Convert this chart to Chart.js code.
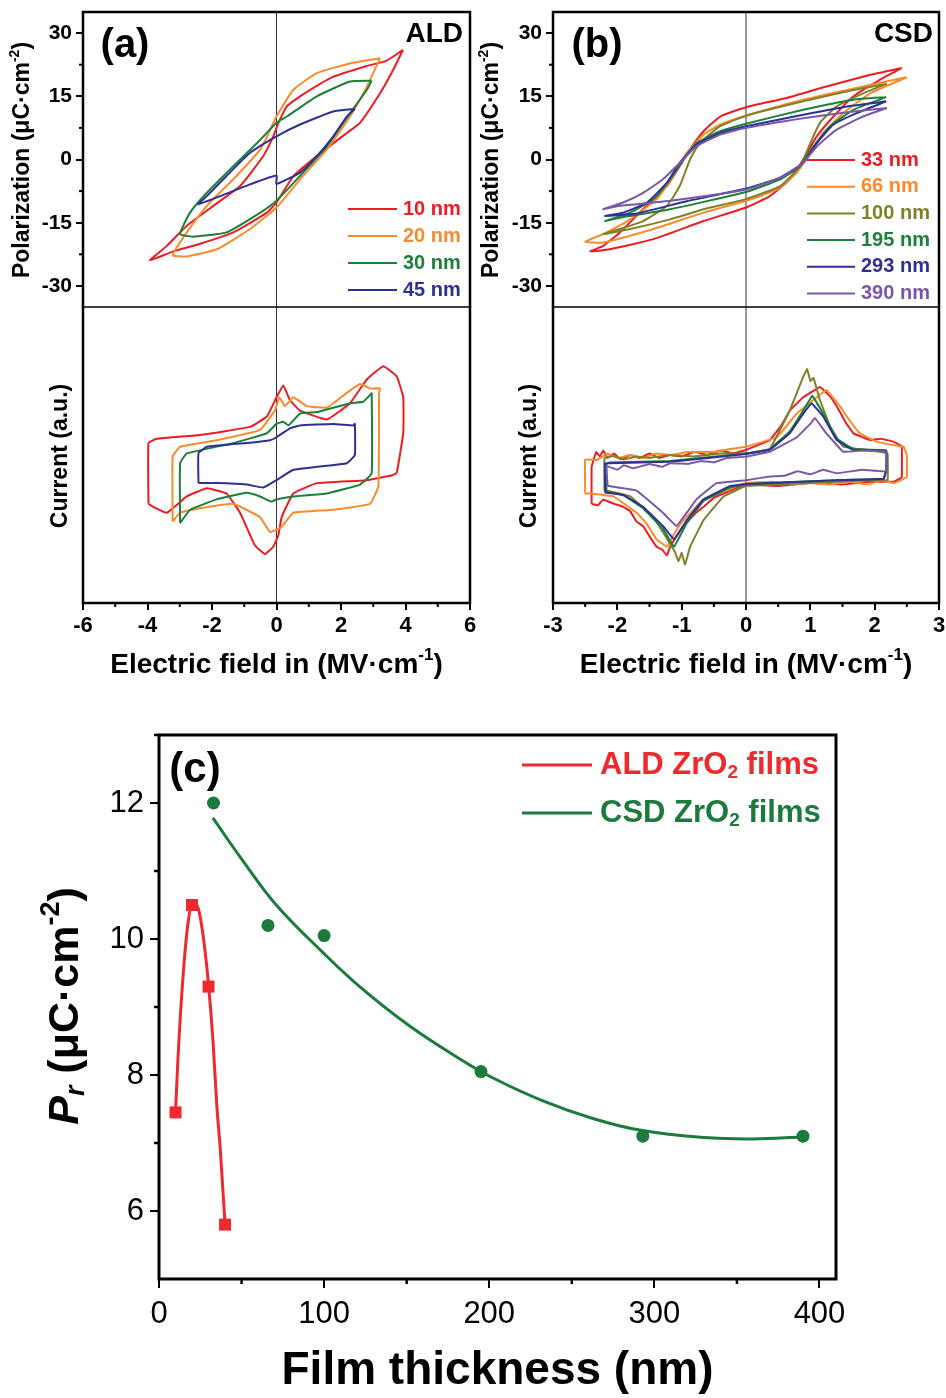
<!DOCTYPE html>
<html>
<head>
<meta charset="utf-8">
<script src="https://cdn.jsdelivr.net/npm/chart.js@4.4.1/dist/chart.umd.min.js"></script>
<style>
html,body{margin:0;padding:0;background:#fff;}
#wrap{position:relative;width:946px;height:1398px;overflow:hidden;background:#fff;}
canvas{position:absolute;}
</style>
</head>
<body>
<div id="wrap">
<canvas id="aTop" width="480" height="307" style="left:0;top:0"></canvas>
<canvas id="aBot" width="490" height="394" style="left:0;top:306px"></canvas>
<canvas id="bTop" width="476" height="307" style="left:470px;top:0"></canvas>
<canvas id="bBot" width="476" height="394" style="left:470px;top:306px"></canvas>
<canvas id="cPlot" width="946" height="698" style="left:0;top:700px"></canvas>
</div>
<script>
const FONT="'Liberation Sans', Arial, sans-serif";
const RED='#ec1c24', ORANGE='#f98b2c', GREEN='#1c7f3a', BLUE='#2e3192', OLIVE='#80802a', PURPLE='#7a58a8';

// ---- (a) ALD, P-E loops [E (MV/cm), P (uC/cm2)]
const aPE10=[[3.92,26],[3.4,23.4],[2.8,22.2],[1.75,19.6],[0.73,15],[0.32,12.6],[0.05,8.5],[-0.1,5.5],[-0.42,0.7],[-1.13,-6.3],[-1.96,-11],[-2.78,-15.7],[-3.4,-20.5],[-3.92,-23.9],[-3.2,-21.8],[-2.37,-20],[-1.34,-17.3],[-0.3,-12.6],[0,-10.2],[0.52,-4],[1.25,0.8],[2.18,6.3],[2.59,8.7],[3.21,15.7],[3.62,21.3],[3.92,26]];
const aPE20=[[3.21,24],[2.28,22.8],[1.25,20.5],[0.52,16.5],[0,10.2],[-0.5,2.4],[-1.34,-4.7],[-2.16,-11],[-2.78,-17.3],[-3.22,-22.7],[-2.78,-23],[-1.85,-21.3],[-0.82,-16.5],[0,-11.4],[0.73,-4.7],[1.56,2.4],[2.28,10.2],[2.8,17.3],[3.21,24]];
const aPE30=[[2.95,18.7],[2.28,18.5],[1.25,15],[0.32,10.2],[0,8.7],[-0.5,4.7],[-1.34,-1.6],[-2.16,-7.9],[-2.68,-12.6],[-2.99,-17.7],[-2.58,-18.3],[-1.55,-17.3],[-0.5,-12.6],[0,-9.8],[0.73,-3.9],[1.56,3.1],[2.28,11],[2.8,16.5],[2.95,18.7]];
const aPE45=[[2.43,12],[1.76,11.4],[0.73,8.3],[0,5.5],[-0.82,1.6],[-1.55,-3.9],[-2.16,-8.7],[-2.42,-10.6],[-1.85,-9],[-0.82,-5.9],[0,-3.8],[0,-5.8],[0.73,-3.1],[1.25,0.8],[1.76,5.5],[2.18,10.2],[2.43,12]];
// ---- (a) ALD, current loops [E, I (a.u.)]
const aIE10=[[-3.97,-0.33],[-3.97,0.08],[-3.71,0.11],[-2.37,0.135],[-0.82,0.19],[-0.3,0.26],[0,0.39],[0.21,0.47],[0.42,0.37],[0.73,0.3],[1.56,0.24],[2.28,0.35],[2.8,0.51],[3.31,0.6],[3.73,0.53],[3.93,0.39],[3.93,0.15],[3.73,-0.12],[3.62,-0.135],[2.8,-0.17],[1.25,-0.19],[0.52,-0.26],[0.16,-0.42],[0.06,-0.54],[-0.1,-0.62],[-0.36,-0.67],[-0.67,-0.61],[-1.13,-0.39],[-1.55,-0.26],[-2.16,-0.225],[-2.78,-0.28],[-3.4,-0.39],[-3.82,-0.35],[-3.97,-0.33]];
const aIE20=[[-3.22,-0.45],[-3.22,-0.01],[-2.99,0.056],[-1.85,0.1],[-0.51,0.17],[-0.05,0.3],[0.09,0.39],[0.26,0.33],[0.52,0.39],[0.94,0.33],[1.56,0.32],[2.18,0.42],[2.59,0.48],[2.9,0.45],[3.21,0.45],[3.18,0.42],[3.16,-0.21],[2.9,-0.33],[1.76,-0.37],[0.52,-0.39],[0.14,-0.49],[-0.2,-0.52],[-0.51,-0.42],[-1.34,-0.33],[-2.37,-0.36],[-2.99,-0.39],[-3.22,-0.45]];
const aIE30=[[-2.99,-0.46],[-2.99,-0.056],[-2.78,0.011],[-1.34,0.08],[-0.3,0.147],[0,0.21],[0.21,0.225],[0.37,0.2],[0.73,0.28],[1.25,0.29],[2.28,0.35],[2.69,0.36],[2.9,0.405],[2.95,0.417],[2.95,-0.124],[2.59,-0.2],[1.56,-0.26],[0.52,-0.28],[0,-0.3],[-0.15,-0.315],[-0.51,-0.28],[-0.92,-0.255],[-1.85,-0.3],[-2.68,-0.37],[-2.99,-0.46]];
const aIE45=[[-2.42,-0.19],[-2.42,0.011],[-2.16,0.056],[-0.82,0.083],[-0.2,0.1],[0,0.12],[0.42,0.18],[0.73,0.2],[1.76,0.21],[2.38,0.2],[2.43,0.21],[2.43,0],[2.18,-0.056],[1.25,-0.08],[0.52,-0.1],[0,-0.17],[-0.41,-0.22],[-0.92,-0.2],[-1.85,-0.19],[-2.42,-0.19]];
const aLabels=['10 nm','20 nm','30 nm','45 nm'];

// ---- (b) CSD, P-E loops
const bPE33=[[2.42,21.7],[1.93,20.1],[1.15,16.9],[0.63,14.6],[0,12.4],[-0.4,10.2],[-0.66,6.7],[-0.84,3.1],[-1.03,-1.6],[-1.23,-6.3],[-1.6,-11.8],[-1.96,-17.3],[-2.22,-20.5],[-2.42,-21.8],[-2.12,-21.3],[-1.44,-18.9],[-0.66,-14.6],[0,-11.4],[0.37,-8.7],[0.68,-4.7],[0.89,0],[1.1,5.5],[1.36,10.2],[1.67,15],[2.08,18.9],[2.42,21.7]];
const bPE66=[[2.5,19.5],[1.93,17.7],[0.89,14.2],[0,10.4],[-0.4,8.3],[-0.66,5.9],[-0.92,1.6],[-1.13,-3.9],[-1.39,-9.4],[-1.8,-14.2],[-2.22,-17.7],[-2.5,-19.5],[-2.22,-19.7],[-1.44,-16.5],[-0.66,-12.6],[0,-9.8],[0.48,-7.1],[0.79,-3.1],[1,1.6],[1.2,6.3],[1.51,11],[1.93,15.7],[2.5,19.5]];
const bPE100=[[2.19,18],[1.67,16.5],[0.89,13.8],[0,10.4],[-0.4,7.9],[-0.72,3.9],[-0.87,0],[-1.03,-6.3],[-1.23,-11],[-1.6,-14.6],[-1.96,-16.5],[-2.22,-17.7],[-1.8,-16.5],[-1.18,-14.2],[-0.66,-11.8],[0,-9.4],[0.53,-6.3],[0.84,-1.6],[1,3.9],[1.15,8.7],[1.41,12.6],[1.82,15.7],[2.19,18]];
const bPE195=[[2.18,14.8],[1.67,14.2],[0.89,11.8],[0,8.5],[-0.4,6.7],[-0.77,3.9],[-0.97,0],[-1.18,-4.7],[-1.44,-9.4],[-1.8,-12.6],[-2.19,-14.6],[-1.96,-13.8],[-1.18,-11.8],[0,-7.7],[0.53,-4.7],[0.84,-1.6],[1.05,3.1],[1.31,7.9],[1.67,11.8],[2.18,14.8]];
const bPE293=[[2.18,13.8],[1.67,12.8],[0.89,10.6],[0,7.9],[-0.4,6.3],[-0.77,3.5],[-1.03,-0.8],[-1.23,-5.5],[-1.54,-10.2],[-1.91,-12.6],[-2.19,-13.4],[-1.7,-12.8],[-0.92,-9.9],[0,-6.9],[0.53,-4.3],[0.89,-0.8],[1.1,3.9],[1.36,8.3],[1.72,11],[2.18,13.8]];
const bPE390=[[2.19,12.2],[1.67,11.4],[0.89,9.8],[0,7.5],[-0.4,5.9],[-0.77,3.1],[-1.03,-0.8],[-1.29,-4.7],[-1.6,-7.9],[-1.91,-10.2],[-2.22,-11.8],[-1.96,-11],[-1.18,-9.8],[0,-7.1],[0.53,-4.3],[0.89,-0.8],[1.1,3.1],[1.41,7.1],[1.82,10.2],[2.19,12.2]];
// ---- (b) CSD, current loops (noisy traces read point by point)
const bIE33=[[-2.4,-0.33],[-2.4,-0.08],[-2.33,0.02],[-2.27,-0.01],[-2.22,0.03],[-2.15,-0.02],[-2.05,0.01],[-1.95,-0.03],[-1.8,0],[-1.65,-0.02],[-1.5,0.01],[-1.35,-0.02],[-1.18,0],[-1,-0.01],[-0.8,0.02],[-0.6,0],[-0.4,0.03],[-0.2,0.01],[0,0.034],[0.37,0.1],[0.55,0.2],[0.68,0.3],[0.89,0.39],[1.15,0.46],[1.3,0.4],[1.41,0.33],[1.55,0.22],[1.67,0.146],[1.93,0.1],[2.1,0.11],[2.29,0.09],[2.42,0.06],[2.42,-0.15],[2.3,-0.18],[1.93,-0.18],[1.5,-0.2],[1,-0.19],[0.5,-0.21],[0,-0.2],[-0.35,-0.26],[-0.5,-0.29],[-0.66,-0.35],[-0.8,-0.4],[-0.97,-0.48],[-1.08,-0.55],[-1.18,-0.62],[-1.23,-0.68],[-1.3,-0.64],[-1.39,-0.62],[-1.5,-0.55],[-1.6,-0.48],[-1.7,-0.45],[-1.8,-0.38],[-1.91,-0.35],[-2.05,-0.33],[-2.22,-0.3],[-2.3,-0.34],[-2.4,-0.33]];
const bIE66=[[-2.5,-0.26],[-2.5,-0.03],[-2.32,-0.034],[-2.15,0.01],[-2,-0.02],[-1.8,0],[-1.6,-0.02],[-1.4,0.01],[-1.18,0],[-0.9,0.02],[-0.5,0.02],[-0.25,0.04],[0,0.056],[0.48,0.12],[0.79,0.28],[1.1,0.39],[1.25,0.44],[1.46,0.33],[1.6,0.24],[1.77,0.146],[2.03,0.09],[2.25,0.07],[2.45,0.056],[2.5,0],[2.5,-0.15],[2.3,-0.19],[2.1,-0.17],[1.9,-0.2],[1.6,-0.18],[1.3,-0.2],[1,-0.185],[0.7,-0.2],[0.4,-0.18],[0,-0.19],[-0.66,-0.3],[-0.97,-0.44],[-1.1,-0.52],[-1.23,-0.62],[-1.39,-0.57],[-1.55,-0.46],[-1.7,-0.39],[-2.06,-0.28],[-2.43,-0.26],[-2.5,-0.26]];
const bIE100=[[-2.2,-0.24],[-2.2,-0.02],[-2.06,-0.007],[-1.9,-0.03],[-1.7,-0.01],[-1.5,-0.02],[-1.2,0],[-0.8,-0.01],[-0.4,0.01],[0,0.01],[0.37,0.04],[0.68,0.3],[0.89,0.53],[0.95,0.58],[1,0.5],[1.05,0.52],[1.15,0.37],[1.31,0.19],[1.51,0.056],[2.08,0.022],[2.2,0.01],[2.2,-0.17],[1.93,-0.17],[0,-0.21],[-0.35,-0.28],[-0.66,-0.44],[-0.87,-0.62],[-0.92,-0.7],[-0.95,-0.74],[-1,-0.66],[-1.05,-0.72],[-1.1,-0.66],[-1.18,-0.6],[-1.44,-0.42],[-1.8,-0.28],[-2.17,-0.24],[-2.2,-0.24]];
const bIE195=[[-2.17,-0.25],[-2.17,-0.06],[-2.12,-0.05],[-1.18,-0.04],[0,0.01],[0.37,0.04],[0.68,0.16],[0.89,0.3],[1.03,0.4],[1.2,0.28],[1.41,0.11],[1.67,0.04],[2.18,0.03],[2.18,-0.1],[2.14,-0.16],[1.41,-0.17],[0,-0.2],[-0.25,-0.22],[-0.66,-0.31],[-0.92,-0.46],[-1.12,-0.62],[-1.29,-0.5],[-1.6,-0.36],[-1.91,-0.27],[-2.17,-0.25]];
const bIE293=[[-2.19,-0.255],[-2.19,-0.056],[-2.12,-0.056],[-1.18,-0.045],[0,0.007],[0.37,0.034],[0.68,0.146],[0.89,0.28],[1.02,0.35],[1.2,0.26],[1.41,0.1],[1.67,0.034],[2.18,0.03],[2.18,-0.1],[2.14,-0.16],[1.41,-0.17],[0,-0.196],[-0.25,-0.21],[-0.66,-0.3],[-0.92,-0.44],[-1.12,-0.57],[-1.29,-0.48],[-1.6,-0.35],[-1.91,-0.27],[-2.17,-0.255],[-2.19,-0.255]];
const bIE390=[[-2.15,-0.21],[-2.17,-0.074],[-2,-0.1],[-1.9,-0.07],[-1.75,-0.09],[-1.5,-0.06],[-1.3,-0.08],[-1.18,-0.056],[-0.9,-0.06],[-0.7,-0.04],[-0.5,-0.05],[-0.3,-0.02],[0,-0.011],[0.37,0.022],[0.79,0.12],[1,0.21],[1.07,0.25],[1.25,0.146],[1.51,0.022],[1.8,0.03],[2.18,0.022],[2.18,-0.11],[1.8,-0.1],[1.41,-0.124],[1.2,-0.1],[1,-0.13],[0.8,-0.11],[0.6,-0.14],[0.37,-0.146],[0,-0.17],[-0.46,-0.19],[-0.77,-0.3],[-1.08,-0.48],[-1.29,-0.39],[-1.7,-0.24],[-2.12,-0.21],[-2.15,-0.21]];
const bLabels=['33 nm','66 nm','100 nm','195 nm','293 nm','390 nm'];

// ---- (c) remanent polarization vs thickness
const aldThick=[10,20,30,40];
const aldPr=[7.45,10.5,9.3,5.8];
const csdThick=[33,66,100,195,293,390];
const csdPr=[12.0,10.2,10.05,8.05,7.1,7.1];
// fitted curves as drawn in the figure
const aldFitThick=[10,11.5,14.5,17.5,20.5,23.6,26.6,29.6,32.7,35.1,37.1,40];
const aldFitPr=[7.45,8.25,9.43,10.22,10.53,10.46,10.07,9.43,8.5,7.52,6.91,5.8];
const csdFitThick=[32.6,50.8,71,99.3,121.5,151.8,182,202,232.5,262.8,291,330,360,390];
const csdFitPr=[11.78,11.15,10.5,9.8,9.3,8.72,8.24,7.96,7.62,7.36,7.19,7.08,7.06,7.09];

// ---- ticks
const aFieldTicks=[-6,-4,-2,0,2,4,6], aFieldMinor=[-5,-3,-1,1,3,5];
const bFieldTicks=[-3,-2,-1,0,1,2,3], bFieldMinor=[-2.5,-1.5,-0.5,0.5,1.5,2.5];
const polTicks=[-30,-15,0,15,30], polMinor=[-22.5,-7.5,7.5,22.5];
const thickTicks=[0,100,200,300,400], thickMinor=[50,150,250,350];
const prTicks=[6,8,10,12], prMinor=[7,9,11,13];

// draws text with {p:sup} {b:sub} {i:italic} {ib:italic sub} markup
function drawRich(ctx,str,x,y,o){
  const size=o.size, weight=o.weight||'bold';
  const parts=[]; const re=/\{(\w+):([^}]*)\}/g; let last=0,m;
  while((m=re.exec(str))){
    if(m.index>last) parts.push({t:str.slice(last,m.index),k:''});
    parts.push({t:m[2],k:m[1]}); last=re.lastIndex;
  }
  if(last<str.length) parts.push({t:str.slice(last),k:''});
  parts.forEach(p=>{
    const small=p.k.includes('b')||p.k.includes('p');
    p.font=(p.k.includes('i')?'italic ':'')+weight+' '+(small?Math.round(size*0.62):size)+'px '+FONT;
    p.dy=p.k.includes('p')?-size*0.33:(p.k.includes('b')?size*0.24:0);
    ctx.font=p.font; p.w=ctx.measureText(p.t).width;
  });
  const total=parts.reduce((s,p)=>s+p.w,0);
  ctx.save(); ctx.translate(x,y); if(o.rot) ctx.rotate(o.rot);
  let cx=o.align==='left'?0:(o.align==='right'?-total:-total/2);
  ctx.fillStyle=o.color||'#000'; ctx.textBaseline='middle'; ctx.textAlign='left';
  parts.forEach(p=>{ctx.font=p.font; ctx.fillText(p.t,cx,p.dy); cx+=p.w;});
  ctx.restore();
}

const framePlugin={
  id:'frame',
  beforeDatasetsDraw(chart,args,o){
    if(!o.zero) return;
    const {ctx,chartArea:a,scales}=chart, x=scales.x.getPixelForValue(0);
    ctx.save(); ctx.strokeStyle='#333'; ctx.lineWidth=1;
    ctx.beginPath(); ctx.moveTo(x,a.top); ctx.lineTo(x,a.bottom); ctx.stroke(); ctx.restore();
  },
  afterDraw(chart,args,o){
    if(!o.lw) return;
    const {ctx,chartArea:a,scales}=chart;
    ctx.save(); ctx.strokeStyle='#000'; ctx.lineWidth=o.minorW||2;
    (o.xMinor||[]).forEach(v=>{const x=scales.x.getPixelForValue(v);ctx.beginPath();ctx.moveTo(x,a.bottom);ctx.lineTo(x,a.bottom+o.minorLen);ctx.stroke();});
    (o.yMinor||[]).forEach(v=>{const y=scales.y.getPixelForValue(v);ctx.beginPath();ctx.moveTo(a.left,y);ctx.lineTo(a.left-o.minorLen,y);ctx.stroke();});
    ctx.lineWidth=o.lw; ctx.lineCap='square';
    const s=o.sides; ctx.beginPath();
    if(s.includes('l')){ctx.moveTo(a.left,a.top);ctx.lineTo(a.left,a.bottom);}
    if(s.includes('r')){ctx.moveTo(a.right,a.top);ctx.lineTo(a.right,a.bottom);}
    if(s.includes('t')){ctx.moveTo(a.left,a.top);ctx.lineTo(a.right,a.top);}
    if(s.includes('b')){ctx.moveTo(a.left,a.bottom);ctx.lineTo(a.right,a.bottom);}
    ctx.stroke();
    if(o.sep){ctx.lineWidth=o.sep;ctx.lineCap='butt';ctx.beginPath();ctx.moveTo(a.left,a.top);ctx.lineTo(a.right,a.top);ctx.stroke();}
    ctx.restore();
  }
};
const notesPlugin={
  id:'notes',
  afterDraw(chart,args,o){
    const ctx=chart.ctx;
    (o.items||[]).forEach(n=>drawRich(ctx,n.text,n.x,n.y,n));
    if(o.legend){
      const L=o.legend; let n=0;
      chart.data.datasets.forEach(ds=>{
        if(ds.noLegend) return;
        const y=L.y+n*L.dy; n++;
        ctx.save(); ctx.strokeStyle=ds.borderColor; ctx.lineWidth=L.lw;
        ctx.beginPath(); ctx.moveTo(L.x0,y); ctx.lineTo(L.x1,y); ctx.stroke(); ctx.restore();
        drawRich(ctx,ds.label,L.tx,y,{size:L.size,color:ds.borderColor,align:'left'});
      });
    }
  }
};
Chart.register(framePlugin,notesPlugin);

function pts(arr){return arr.map(p=>({x:p[0],y:p[1]}));}
function loop(label,color,arr,i,t){
  return {label,data:pts(arr),borderColor:color,backgroundColor:color,borderWidth:2,showLine:true,pointRadius:0,tension:t,fill:false,order:-i};
}
function tickAxis(min,max,ticks,size,weight,tl,pad,fit){
  return {type:'linear',min,max,
    afterBuildTicks:s=>{s.ticks=ticks.map(v=>({value:v}));},
    afterFit:fit,
    grid:{drawOnChartArea:false,color:'#000',lineWidth:2,tickLength:tl},
    border:{display:false},
    ticks:{color:'#000',padding:pad,autoSkip:false,maxRotation:0,font:{family:FONT,size,weight}}};
}
const fitY=w=>s=>{s.width=w;s.paddingTop=0;s.paddingBottom=0;};
const fitX=h=>s=>{s.height=h;s.paddingLeft=0;s.paddingRight=0;};
function base(pad,plugins,scales,datasets){
  return {type:'scatter',data:{datasets},
    options:{responsive:false,animation:false,events:[],layout:{padding:pad},
      plugins:Object.assign({legend:{display:false},tooltip:{enabled:false}},plugins),scales}};
}
const hiddenY={type:'linear',min:-1,max:1,afterFit:fitY(83),ticks:{display:false},grid:{display:false},border:{display:false}};
const R90=-Math.PI/2;

// (a) top: polarization
const aCols=[RED,ORANGE,GREEN,BLUE];
new Chart(document.getElementById('aTop'),base({top:12,right:10,left:0,bottom:0},
  {frame:{lw:2.5,sides:'ltr',zero:true,yMinor:polMinor,minorLen:4},
   notes:{items:[{text:'Polarization (μC·cm{p:-2})',x:23,y:160,size:23,rot:R90},{text:'(a)',x:125,y:46,size:40},{text:'ALD',x:463,y:34,size:28,align:'right'}],
     legend:{x0:348,x1:397,tx:403,y:209,dy:27,size:20,lw:2}}},
  {x:{type:'linear',min:-6,max:6,display:false},y:tickAxis(-35,35,polTicks,21,'bold',7,4,fitY(83))},
  [aPE10,aPE20,aPE30,aPE45].map((d,i)=>loop(aLabels[i],aCols[i],d,i,0.15))));
// (a) bottom: current
new Chart(document.getElementById('aBot'),base({top:1,right:20,left:0,bottom:0},
  {frame:{lw:2.5,sides:'lrb',sep:1.5,zero:true,xMinor:aFieldMinor,minorLen:4},
   notes:{items:[{text:'Current (a.u.)',x:61,y:150,size:23,rot:R90},{text:'Electric field in (MV·cm{p:-1})',x:276.5,y:359,size:28}]}},
  {x:tickAxis(-6,6,aFieldTicks,22,'bold',7,3,fitX(97)),y:hiddenY},
  [aIE10,aIE20,aIE30,aIE45].map((d,i)=>Object.assign(loop(aLabels[i],aCols[i],d,i,0.1),{noLegend:true}))));

// (b) top: polarization
const bCols=[RED,ORANGE,OLIVE,GREEN,BLUE,PURPLE];
new Chart(document.getElementById('bTop'),base({top:12,right:7,left:0,bottom:0},
  {frame:{lw:2.5,sides:'ltr',zero:true,yMinor:polMinor,minorLen:4},
   notes:{items:[{text:'Polarization (μC·cm{p:-2})',x:22,y:160,size:23,rot:R90},{text:'(b)',x:127,y:46,size:40},{text:'CSD',x:463,y:34,size:28,align:'right'}],
     legend:{x0:337,x1:385,tx:391,y:160,dy:26.7,size:20,lw:2}}},
  {x:{type:'linear',min:-3,max:3,display:false},y:tickAxis(-35,35,polTicks,21,'bold',7,4,fitY(83))},
  [bPE33,bPE66,bPE100,bPE195,bPE293,bPE390].map((d,i)=>loop(bLabels[i],bCols[i],d,i,0.15))));
// (b) bottom: current
new Chart(document.getElementById('bBot'),base({top:1,right:7,left:0,bottom:0},
  {frame:{lw:2.5,sides:'lrb',sep:1.5,zero:true,xMinor:bFieldMinor,minorLen:4},
   notes:{items:[{text:'Current (a.u.)',x:60,y:150,size:23,rot:R90},{text:'Electric field in (MV·cm{p:-1})',x:276,y:359,size:28}]}},
  {x:tickAxis(-3,3,bFieldTicks,22,'bold',7,3,fitX(97)),y:hiddenY},
  [bIE33,bIE66,bIE100,bIE195,bIE293,bIE390].map((d,i)=>Object.assign(loop(bLabels[i],bCols[i],d,i,0.05),{noLegend:true}))));

// (c) Pr vs thickness
const C_RED='#ee2a2e', C_GREEN='#1b7a3c';
const zip=(xs,ys)=>xs.map((x,i)=>({x,y:ys[i]}));
new Chart(document.getElementById('cPlot'),base({top:35,right:110,left:0,bottom:0},
  {frame:{lw:3,sides:'ltrb',xMinor:thickMinor,yMinor:prMinor,minorLen:5,minorW:2.5},
   notes:{items:[{text:'{i:P}{ib:r} (μC·cm{p:-2})',x:66,y:306,size:43,rot:R90},{text:'Film thickness (nm)',x:497.5,y:671,size:46},{text:'(c)',x:195,y:70,size:42}],
     legend:{x0:522,x1:592,tx:600,y:65,dy:48,size:31,lw:3}}},
  {x:tickAxis(0,410,thickTicks,31,'normal',9,8,fitX(119)),y:tickAxis(5,13,prTicks,31,'normal',9,6,fitY(159))},
  [{label:'ALD ZrO{b:2} films',data:zip(aldFitThick,aldFitPr),borderColor:C_RED,backgroundColor:C_RED,borderWidth:3,showLine:true,pointRadius:0,cubicInterpolationMode:'monotone',order:2},
   {label:'CSD ZrO{b:2} films',data:zip(csdFitThick,csdFitPr),borderColor:C_GREEN,backgroundColor:C_GREEN,borderWidth:3,showLine:true,pointRadius:0,tension:0.4,order:2},
   {label:'ALD',noLegend:true,data:zip(aldThick,aldPr),pointStyle:'rect',pointRadius:8.5,borderWidth:0,backgroundColor:C_RED,borderColor:C_RED,showLine:false,order:1},
   {label:'CSD',noLegend:true,data:zip(csdThick,csdPr),pointStyle:'circle',pointRadius:6.5,borderWidth:0,backgroundColor:C_GREEN,borderColor:C_GREEN,showLine:false,order:1}]));
</script>
</body>
</html>
